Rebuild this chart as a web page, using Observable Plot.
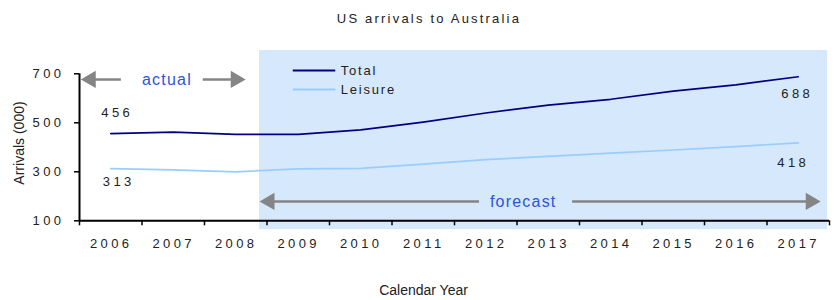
<!DOCTYPE html>
<html>
<head>
<meta charset="utf-8">
<script src="https://cdn.jsdelivr.net/npm/d3@7"></script>
<script src="https://cdn.jsdelivr.net/npm/@observablehq/plot@0.6"></script>
<style>
  body { margin: 0; background: #fff; }
  #wrap { position: relative; width: 834px; height: 300px; overflow: hidden; font-family: "Liberation Sans", Arial, sans-serif; }
  #title { position: absolute; top: 11px; left: 0; width: 834px; padding-left: 24px; box-sizing: border-box; text-align: center; font-size: 13px; line-height: 16px; letter-spacing: 2.2px; color: #222; }
  #ylabel { position: absolute; left: 19px; top: 143px; transform: translate(-50%, -50%) rotate(-90deg); white-space: nowrap; font-size: 14px; line-height: 16px; color: #222; }
  #chart { position: absolute; top: 40px; left: 0; }
  g[aria-label$="tick label"] text, g[aria-description="endlabel"] text { letter-spacing: 3.4px; }
  g[aria-description="legendtext"] text { letter-spacing: 1.8px; }
  g[aria-description="annot"] text { letter-spacing: 1.2px; }
</style>
</head>
<body>
<div id="wrap">
  <div id="title"></div>
  <div id="ylabel"></div>
  <div id="chart"></div>
</div>
<script>
// ---- data ----
const years = [2006, 2007, 2008, 2009, 2010, 2011, 2012, 2013, 2014, 2015, 2016, 2017];
const total = [456, 462, 453, 453, 471, 503, 540, 572, 596, 629, 655, 688];
const leisure = [313, 308, 300, 312, 314, 331, 350, 363, 376, 389, 403, 418];
const seriesNames = ["Total", "Leisure"];
const seriesColors = ["#000080", "#99ccff"];
const yTicks = [100, 300, 500, 700];
const xBoundaries = [2005.5, 2006.5, 2007.5, 2008.5, 2009.5, 2010.5, 2011.5, 2012.5, 2013.5, 2014.5, 2015.5, 2016.5, 2017.5];
const annotations = ["actual", "forecast"];
const titleText = "US arrivals to Australia";
const yLabel = "Arrivals (000)";
const xLabel = "Calendar Year";

document.getElementById("title").textContent = titleText;
document.getElementById("ylabel").textContent = yLabel;

// ---- build table ----
const rows = [];
years.forEach((yr, i) => {
  rows.push({year: yr, value: total[i], series: seriesNames[0]});
  rows.push({year: yr, value: leisure[i], series: seriesNames[1]});
});

const gray = "#858585";
const blue = "#2b55d9";

// arrow segments (shafts) and heads in data coordinates
const shafts = [
  {y: 677, x1: 2005.6, x2: 2006.17},
  {y: 677, x1: 2007.48, x2: 2008.05},
  {y: 179, x1: 2008.45, x2: 2011.9},
  {y: 179, x1: 2013.39, x2: 2017.25}
];
const leftHeads = [{x: 2005.52, y: 677}, {x: 2008.38, y: 179}];
const rightHeads = [{x: 2008.16, y: 677}, {x: 2017.36, y: 179}];
const annotText = [
  {x: 2006.89, y: 677, t: annotations[0]},
  {x: 2012.59, y: 179, t: annotations[1]}
];
const legendLines = [
  {x1: 2008.92, x2: 2009.6, y: 713, s: seriesNames[0]},
  {x1: 2008.92, x2: 2009.6, y: 636, s: seriesNames[1]}
];

const chart = Plot.plot({
  width: 834,
  height: 260,
  marginLeft: 79,
  marginRight: 5,
  marginTop: 33.3,
  marginBottom: 79.7,
  x: {domain: [2005.5, 2017.5], label: null},
  y: {domain: [100, 700], label: null},
  color: {domain: seriesNames, range: seriesColors},
  style: {fontFamily: "'Liberation Sans', Arial, sans-serif", fontSize: "13px", color: "#222", background: "transparent", overflow: "visible"},
  marks: [
    // forecast shading
    Plot.rect([{x1: 2008.38, x2: 2017.47, y1: 64, y2: 795}], {x1: "x1", x2: "x2", y1: "y1", y2: "y2", fill: "#d6e8fc"}),
    // axes
    Plot.ruleX([2005.5], {y1: 100, y2: 700, stroke: "#000", strokeWidth: 2}),
    Plot.ruleY([100], {x1: 2005.5, x2: 2017.5, stroke: "#000", strokeWidth: 2}),
    Plot.axisY({ticks: yTicks, tickSize: 5, tickPadding: 10, label: null, stroke: "#000", strokeWidth: 1.5, fill: "#222", fontSize: 13}),
    Plot.axisX({ticks: xBoundaries, tickSize: 5, tickFormat: () => "", label: null, stroke: "#000", strokeWidth: 1.5}),
    Plot.axisX({ticks: years, tickSize: 0, tickPadding: 18, tickFormat: d3.format("d"), label: null, fill: "#222", fontSize: 13, dx: 0.5}),
    // x axis title
    Plot.text([xLabel], {text: d => d, frameAnchor: "bottom", dx: -31, dy: 74, fontSize: 14, fill: "#222"}),
    // series lines
    Plot.line(rows, {x: "year", y: "value", z: "series", stroke: "series", strokeWidth: 1.7}),
    // end labels
    Plot.text([{x: years[0], y: total[0]}], {x: "x", y: "y", text: d => String(d.y), dx: 6.5, dy: -21, fill: "#222", fontSize: 13, ariaDescription: "endlabel"}),
    Plot.text([{x: years[0], y: leisure[0]}], {x: "x", y: "y", text: d => String(d.y), dx: 8, dy: 13.5, fill: "#222", fontSize: 13, ariaDescription: "endlabel"}),
    Plot.text([{x: years[11], y: total[11]}], {x: "x", y: "y", text: d => String(d.y), dx: -1, dy: 17, fill: "#222", fontSize: 13, ariaDescription: "endlabel"}),
    Plot.text([{x: years[11], y: leisure[11]}], {x: "x", y: "y", text: d => String(d.y), dx: -5, dy: 19.5, fill: "#222", fontSize: 13, ariaDescription: "endlabel"}),
    // legend
    Plot.ruleY(legendLines, {x1: "x1", x2: "x2", y: "y", stroke: "s", strokeWidth: 2}),
    Plot.text(legendLines, {x: "x2", y: "y", text: "s", textAnchor: "start", dx: 5, fill: "#222", fontSize: 13, ariaDescription: "legendtext"}),
    // annotation arrows
    Plot.ruleY(shafts, {x1: "x1", x2: "x2", y: "y", stroke: gray, strokeWidth: 2.5}),
    Plot.dot(leftHeads, {x: "x", y: "y", symbol: "triangle", r: 6.4, fill: gray, rotate: -90, dx: 10}),
    Plot.dot(rightHeads, {x: "x", y: "y", symbol: "triangle", r: 6.4, fill: gray, rotate: 90, dx: -10}),
    Plot.text(annotText, {x: "x", y: "y", text: "t", fill: blue, fontSize: 16, dx: 0.6, ariaDescription: "annot"})
  ]
});
document.getElementById("chart").appendChild(chart);
</script>
</body>
</html>
